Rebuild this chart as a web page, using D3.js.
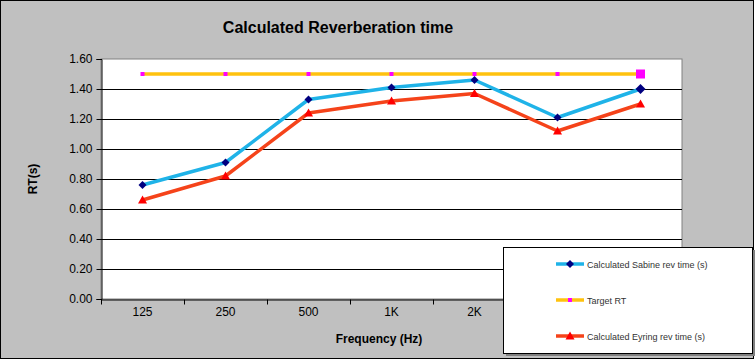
<!DOCTYPE html>
<html>
<head>
<meta charset="utf-8">
<script src="https://cdn.jsdelivr.net/npm/d3@7"></script>
<style>
  body { margin: 0; background: #fff; }
  svg { display: block; font-family: Arial, "Liberation Sans", sans-serif; }
</style>
</head>
<body>
<svg id="chart" width="756" height="360"></svg>
<script>
// Data
const frequencies = ["125", "250", "500", "1K", "2K", "4K", "Avg"];
const sabine = [0.76, 0.91, 1.33, 1.41, 1.46, 1.21, 1.40];
const target = [1.50, 1.50, 1.50, 1.50, 1.50, 1.50, 1.50];
const eyring = [0.66, 0.82, 1.24, 1.32, 1.37, 1.12, 1.30];
const yTicks = [0, 0.2, 0.4, 0.6, 0.8, 1.0, 1.2, 1.4, 1.6];

const series = [
  { name: "Calculated Sabine rev time (s)", values: sabine, line: "#1FB3E8", marker: "diamond", fill: "#000080", lastBig: true },
  { name: "Target RT", values: target, line: "#FFC20E", marker: "square", fill: "#FF00FF", lastBig: true },
  { name: "Calculated Eyring rev time (s)", values: eyring, line: "#F5431A", marker: "triangle", fill: "#FF0000", lastBig: false }
];

const svg = d3.select("#chart");
const W = 756, H = 360;
const plot = { left: 101, top: 59, right: 682, bottom: 299 };

// background + frame
svg.append("rect").attr("x", 0.5).attr("y", 0.5).attr("width", W - 3).attr("height", H - 2)
  .attr("fill", "#C0C0C0").attr("stroke", "#000");

const x = d3.scaleBand().domain(frequencies).range([plot.left, plot.right]);
const y = d3.scaleLinear().domain([0, 1.6]).range([plot.bottom, plot.top]);

// plot area
svg.append("rect")
  .attr("x", plot.left).attr("y", plot.top)
  .attr("width", plot.right - plot.left).attr("height", plot.bottom - plot.top)
  .attr("fill", "#fff").attr("stroke", "#808080");

// grid
svg.append("g").selectAll("line")
  .data(yTicks.filter(d => d > 0 && d < 1.6))
  .join("line")
  .attr("x1", plot.left).attr("x2", plot.right)
  .attr("y1", d => Math.round(y(d)) + 0.5).attr("y2", d => Math.round(y(d)) + 0.5)
  .attr("stroke", "#000").attr("stroke-width", 1.2);

// y axis
const yAxis = svg.append("g")
  .attr("transform", `translate(${plot.left + 0.5},0)`)
  .call(d3.axisLeft(y).tickValues(yTicks).tickFormat(d3.format(".2f")).tickSize(5).tickPadding(4));
yAxis.select(".domain").attr("stroke", "#000");
yAxis.selectAll("text").attr("font-size", 12).attr("fill", "#000")
  .style("font-family", "Arial, 'Liberation Sans', sans-serif");

// x axis
const xAxis = svg.append("g")
  .attr("transform", `translate(0,${plot.bottom + 0.5})`)
  .call(d3.axisBottom(x).tickSize(0).tickPadding(8));
xAxis.select(".domain").attr("stroke", "#000");
xAxis.selectAll("text").attr("font-size", 12).attr("fill", "#000")
  .style("font-family", "Arial, 'Liberation Sans', sans-serif");
// ticks between categories
const boundaries = frequencies.map(f => x(f)).concat([plot.right]);
xAxis.selectAll("line.bnd").data(boundaries).join("line")
  .attr("class", "bnd")
  .attr("x1", d => Math.round(d) + 0.5).attr("x2", d => Math.round(d) + 0.5)
  .attr("y1", 0).attr("y2", 5).attr("stroke", "#000");

const cx = d => x(d) + x.bandwidth() / 2;

function drawMarker(g, type, px, py, fill, big) {
  if (type === "diamond") {
    const r = big ? 5 : 4;
    g.append("path").attr("d", `M${px},${py - r}L${px + r},${py}L${px},${py + r}L${px - r},${py}Z`).attr("fill", fill);
  } else if (type === "square") {
    const r = big ? 4.5 : 2;
    g.append("rect").attr("x", px - r).attr("y", py - r).attr("width", 2 * r).attr("height", 2 * r).attr("fill", fill);
  } else {
    const r = 4.5;
    g.append("path").attr("d", `M${px},${py - r}L${px + r},${py + r * 0.8}L${px - r},${py + r * 0.8}Z`).attr("fill", fill);
  }
}

const line = d3.line().x((d, i) => cx(frequencies[i])).y(d => y(d));
series.forEach(s => {
  const g = svg.append("g");
  g.append("path").datum(s.values).attr("d", line)
    .attr("fill", "none").attr("stroke", s.line).attr("stroke-width", 3.5).attr("stroke-linejoin", "round");
  s.values.forEach((v, i) => drawMarker(g, s.marker, cx(frequencies[i]), y(v), s.fill, s.lastBig && i === s.values.length - 1));
});

// title and axis titles
svg.append("text").attr("x", 338).attr("y", 33).attr("text-anchor", "middle")
  .attr("font-size", 16).attr("font-weight", "bold").text("Calculated Reverberation time");
svg.append("text").attr("x", 379).attr("y", 343).attr("text-anchor", "middle")
  .attr("font-size", 12).attr("font-weight", "bold").text("Frequency (Hz)");
svg.append("text").attr("transform", "translate(37,179) rotate(-90)").attr("text-anchor", "middle")
  .attr("font-size", 12).attr("font-weight", "bold").text("RT(s)");

// legend
const lg = { x: 503, y: 247, w: 249, h: 106 };
svg.append("rect").attr("x", lg.x + 3).attr("y", lg.y + 3).attr("width", lg.w).attr("height", lg.h).attr("fill", "#808080");
svg.append("rect").attr("x", lg.x + 0.5).attr("y", lg.y + 0.5).attr("width", lg.w).attr("height", lg.h)
  .attr("fill", "#fff").attr("stroke", "#000");
series.forEach((s, i) => {
  const ry = lg.y + 17 + i * 36;
  const g = svg.append("g");
  g.append("line").attr("x1", 556).attr("x2", 584).attr("y1", ry).attr("y2", ry)
    .attr("stroke", s.line).attr("stroke-width", 3.5);
  drawMarker(g, s.marker, 570, ry, s.fill, false);
  g.append("text").attr("x", 587).attr("y", ry + 3.5).attr("font-size", 9).attr("fill", "#333").text(s.name);
});
</script>
</body>
</html>
